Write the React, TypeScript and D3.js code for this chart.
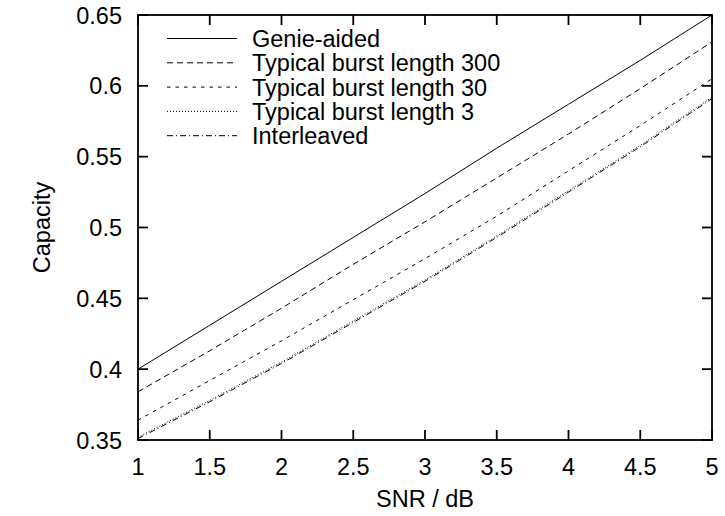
import React from "react";
import * as d3 from "d3";

const snr = [1, 1.5, 2, 2.5, 3, 3.5, 4, 4.5, 5];
const genie = [0.4, 0.431, 0.462, 0.493, 0.524, 0.556, 0.587, 0.618, 0.65];
const burst300 = [0.384, 0.413, 0.443, 0.474, 0.504, 0.535, 0.566, 0.598, 0.631];
const burst30 = [0.364, 0.392, 0.42, 0.449, 0.478, 0.508, 0.54, 0.572, 0.605];
const burst3 = [0.352, 0.378, 0.405, 0.434, 0.463, 0.494, 0.526, 0.558, 0.592];
const interleaved = [0.351, 0.377, 0.404, 0.433, 0.462, 0.493, 0.525, 0.557, 0.591];
const seriesNames = [
  "Genie-aided",
  "Typical burst length 300",
  "Typical burst length 30",
  "Typical burst length 3",
  "Interleaved",
];
const xTicks = [1, 1.5, 2, 2.5, 3, 3.5, 4, 4.5, 5];
const yTicks = [0.35, 0.4, 0.45, 0.5, 0.55, 0.6, 0.65];

const dashes = ["none", "6,4", "3.5,5", "1,2", "6,3,1,3"];

export default function App() {
  const W = 725, H = 516;
  const L = 138, R = 712, T = 15, B = 440;
  const x = d3.scaleLinear().domain([1, 5]).range([L, R]);
  const y = d3.scaleLinear().domain([0.35, 0.65]).range([B, T]);
  const series = [genie, burst300, burst30, burst3, interleaved];
  const line = d3
    .line<number>()
    .x((_, i) => x(snr[i]))
    .y((d) => y(d));
  const font = "'Liberation Sans', Arial, Helvetica, sans-serif";
  const fs = 23.5;
  const tl = 10;
  return (
    <svg
      width={W}
      height={H}
      style={{ position: "absolute", left: 0, top: 0, background: "#fff" }}
      fontFamily={font}
    >
      <rect x={0} y={0} width={W} height={H} fill="#fff" />
      {series.map((s, i) => (
        <path
          key={i}
          d={line(s) || ""}
          fill="none"
          stroke="#000"
          strokeWidth={1}
          strokeDasharray={dashes[i]}
        />
      ))}
      {xTicks.map((t) => (
        <g key={"x" + t}>
          <line x1={x(t)} x2={x(t)} y1={B} y2={B - tl} stroke="#000" strokeWidth={1.8} />
          <line x1={x(t)} x2={x(t)} y1={T} y2={T + tl} stroke="#000" strokeWidth={1.8} />
          <text x={x(t)} y={475} fontSize={fs} textAnchor="middle" fill="#000">
            {t}
          </text>
        </g>
      ))}
      {yTicks.map((t) => (
        <g key={"y" + t}>
          <line x1={L} x2={L + tl} y1={y(t)} y2={y(t)} stroke="#000" strokeWidth={1.8} />
          <line x1={R} x2={R - tl} y1={y(t)} y2={y(t)} stroke="#000" strokeWidth={1.8} />
          <text x={122} y={y(t) + 8.5} fontSize={fs} textAnchor="end" fill="#000">
            {t}
          </text>
        </g>
      ))}
      <rect x={L} y={T} width={R - L} height={B - T} fill="none" stroke="#000" strokeWidth={1.8} />
      {seriesNames.map((n, i) => {
        const yy = 38.5 + i * 24.3;
        return (
          <g key={n}>
            <line
              x1={167}
              x2={237}
              y1={yy}
              y2={yy}
              stroke="#000"
              strokeWidth={1}
              strokeDasharray={dashes[i]}
            />
            <text x={252} y={yy + 8.5} fontSize={fs} fill="#000">
              {n}
            </text>
          </g>
        );
      })}
      <text x={425} y={507} fontSize={fs} textAnchor="middle" fill="#000">
        SNR / dB
      </text>
      <text
        transform={`translate(50, ${(T + B) / 2}) rotate(-90)`}
        fontSize={fs}
        textAnchor="middle"
        fill="#000"
      >
        Capacity
      </text>
    </svg>
  );
}
